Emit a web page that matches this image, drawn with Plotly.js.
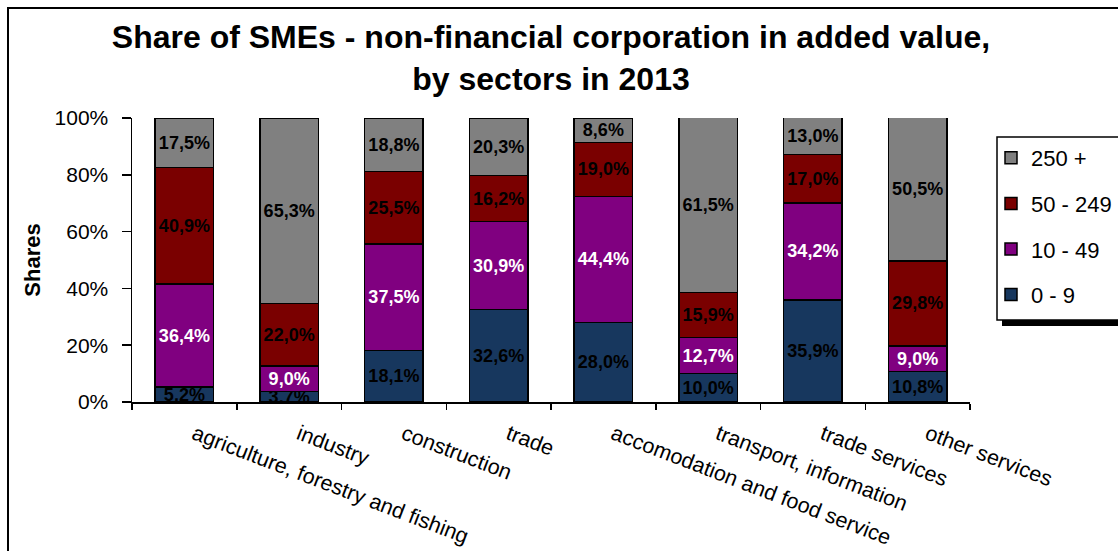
<!DOCTYPE html>
<html>
<head>
<meta charset="utf-8">
<script src="https://cdn.plot.ly/plotly-3.0.1.min.js"></script>
<style>
  html, body { margin: 0; padding: 0; background: #fff; overflow: hidden; }
  #wrap { position: relative; width: 1118px; height: 551px; }
  #chart { position: absolute; left: 0; top: 0; width: 1118px; height: 551px; }
  #frame { position: absolute; left: 7px; top: 7px; width: 1200px; height: 600px;
           border: 2px solid #000; pointer-events: none; box-sizing: border-box; }
</style>
</head>
<body>
<div id="wrap">
  <div id="chart"></div>
  <div id="frame"></div>
</div>
<script>
// ---- data ----
const categories = [
  "agriculture, forestry and fishing",
  "industry",
  "construction",
  "trade",
  "accomodation and food service",
  "transport, information",
  "trade services",
  "other services"
];
const seriesNames = ["0 - 9", "10 - 49", "50 - 249", "250 +"];
const size0_9     = [5.2, 3.7, 18.1, 32.6, 28.0, 10.0, 35.9, 10.8];
const size10_49   = [36.4, 9.0, 37.5, 30.9, 44.4, 12.7, 34.2, 9.0];
const size50_249  = [40.9, 22.0, 25.5, 16.2, 19.0, 15.9, 17.0, 29.8];
const size250plus = [17.5, 65.3, 18.8, 20.3, 8.6, 61.5, 13.0, 50.5];
const yTickVals   = [0, 20, 40, 60, 80, 100];
const yTickText   = ["0%", "20%", "40%", "60%", "80%", "100%"];

// ---- styles ----
const colors = ["#17375E", "#800080", "#7A0000", "#808080"];
const textColors = ["#000000", "#ffffff", "#000000", "#000000"];
const allSeries = [size0_9, size10_49, size50_249, size250plus];
const fmt = v => v.toFixed(1).replace(".", ",") + "%";
const FONT = "Liberation Sans, Arial, sans-serif";

const traces = allSeries.map((vals, i) => ({
  type: "bar",
  name: seriesNames[i],
  x: categories,
  y: vals,
  text: vals.map(fmt),
  textposition: "inside",
  insidetextanchor: "middle",
  constraintext: "none",
  textangle: 0,
  textfont: { family: FONT, size: 18, color: textColors[i], weight: "bold" },
  marker: { color: colors[i], line: { color: "#000", width: 1.5 } },
  legendgroup: "g" + i,
  legendrank: allSeries.length - i,
  hoverinfo: "skip"
}));

// pixel helpers for layout placement (plot area: x 132..970, y 118..402)
const L = 132, R = 970, T = 118, B = 402;
const px = v => (v - L) / (R - L);
const py = v => (B - v) / (B - T);

const layout = {
  width: 1118,
  height: 551,
  margin: { l: L, r: 1118 - R, t: T, b: 551 - B, autoexpand: false },
  paper_bgcolor: "rgba(0,0,0,0)",
  plot_bgcolor: "rgba(0,0,0,0)",
  barmode: "stack",
  bargap: 0.44,
  font: { family: FONT, color: "#000" },
  title: {
    text: "Share of SMEs - non-financial corporation in added value,<br>by sectors in 2013",
    font: { size: 32, weight: "bold", family: FONT, color: "#000" },
    xref: "paper", x: 0.5, xanchor: "center",
    yref: "container", y: 1 - 48 / 551, yanchor: "middle"
  },
  xaxis: {
    type: "category",
    showline: true, linecolor: "#000", linewidth: 1.5,
    ticks: "outside", tickson: "boundaries", ticklen: 6, tickcolor: "#000", tickwidth: 1.5,
    tickangle: 21,
    ticklabelstandoff: 10,
    ticklabelshift: 10,
    tickfont: { size: 21.5, family: FONT },
    showgrid: false, zeroline: false, automargin: false,
    fixedrange: true
  },
  yaxis: {
    range: [0, 100],
    tickvals: yTickVals, ticktext: yTickText,
    showline: true, linecolor: "#000", linewidth: 1.5,
    ticks: "outside", ticklen: 9, tickcolor: "#000", tickwidth: 1.5,
    ticklabelstandoff: 9,
    tickfont: { size: 21, family: FONT },
    showgrid: false, zeroline: false, automargin: false,
    title: { text: "Shares", font: { size: 22, weight: "bold", family: FONT }, standoff: 8 },
    fixedrange: true
  },
  showlegend: true,
  legend: {
    x: px(991), xanchor: "left",
    y: py(137), yanchor: "top",
    bgcolor: "rgba(0,0,0,0)",
    borderwidth: 0,
    font: { size: 22, family: FONT, color: "#000" },
    traceorder: "grouped",
    tracegroupgap: 14
  },
  shapes: [
    { type: "rect", xref: "paper", yref: "paper", layer: "above",
      x0: px(1002), x1: px(1300), y0: py(326), y1: py(142),
      fillcolor: "#000", line: { width: 0 } },
    { type: "rect", xref: "paper", yref: "paper", layer: "above",
      x0: px(997), x1: px(1300), y0: py(320), y1: py(137),
      fillcolor: "#fff", line: { color: "#000", width: 1.5 } }
  ]
};

Plotly.newPlot("chart", traces, layout, { staticPlot: true, displayModeBar: false });
</script>
</body>
</html>
